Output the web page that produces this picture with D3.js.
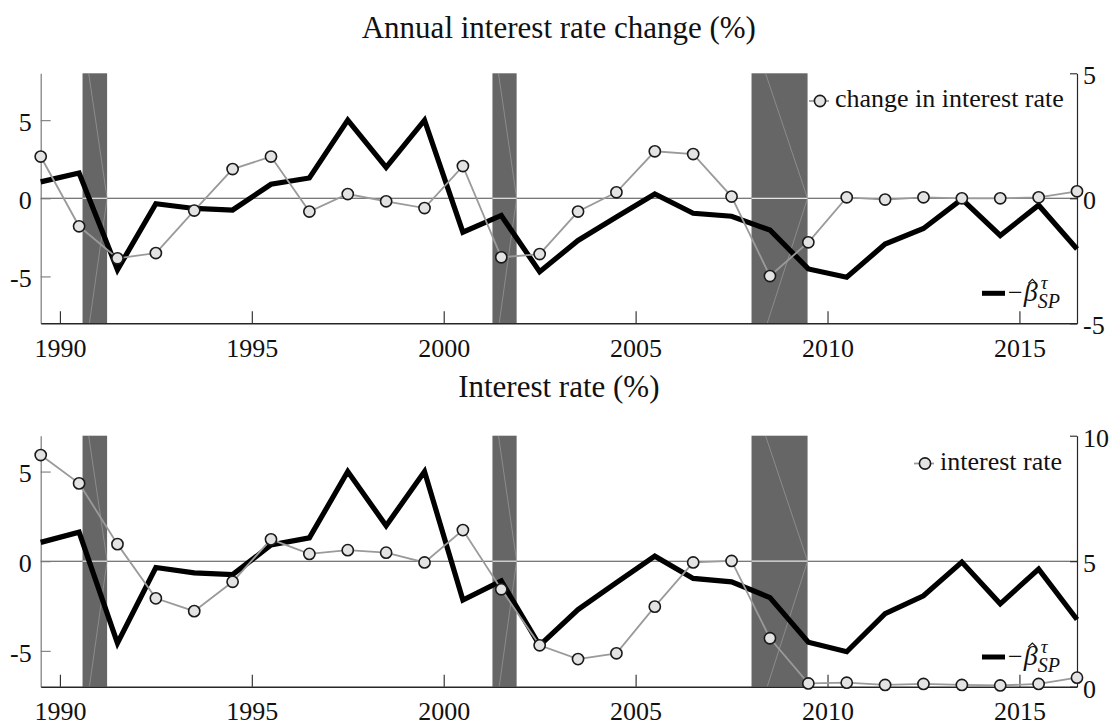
<!DOCTYPE html>
<html><head><meta charset="utf-8">
<script src="https://cdn.jsdelivr.net/npm/d3@7/dist/d3.min.js"></script>
<style>
body{margin:0;background:#fff}
svg{display:block}
</style>
</head><body>
<svg id="c" width="1112" height="726"></svg>
<script>
// ---- data ----
const years = [1989,1990,1991,1992,1993,1994,1995,1996,1997,1998,1999,2000,2001,2002,
               2003,2004,2005,2006,2007,2008,2009,2010,2011,2012,2013,2014,2015,2016];
const betaSP = [1.05,1.62,-4.57,-0.35,-0.65,-0.75,0.9,1.3,5.0,1.98,5.0,-2.17,-1.1,-4.7,
                -2.7,-1.2,0.28,-0.96,-1.15,-2.03,-4.52,-5.05,-2.93,-1.93,-0.05,-2.38,-0.44,-3.25];
const rateChange = [1.67,-1.12,-2.4,-2.19,-0.49,1.17,1.67,-0.53,0.17,-0.12,-0.39,1.29,-2.36,-2.23,
                    -0.53,0.24,1.88,1.77,0.07,-3.11,-1.76,0.04,-0.05,0.04,0,0,0.04,0.28];
const rate = [9.23,8.1,5.68,3.52,3.01,4.18,5.87,5.29,5.44,5.34,4.95,6.24,3.88,1.65,
              1.1,1.33,3.19,4.95,5.01,1.93,0.13,0.16,0.07,0.11,0.07,0.05,0.11,0.36];
const recessions = [[1990.59,1991.23],[2001.27,2001.9],[2008.02,2009.48]];
const xTicks = [1990,1995,2000,2005,2010,2015];
const leftTicks = [-5,0,5];
const titles = ["Annual interest rate change (%)","Interest rate (%)"];
const legendNames = ["change in interest rate","interest rate"];

// ---- layout ----
const SERIF = '"Liberation Serif","Tinos","Times New Roman",serif';
const svg = d3.select('#c');
const X0 = 40.7, X1 = 1077;
const x = d3.scaleLinear().domain([1989.5,2016.5]).range([X0,X1]);
const FS = 26;
const fmt = d => d<0 ? '-'+Math.abs(d) : String(d);

function styleText(sel, size){
  sel.style('font-family',SERIF).attr('font-family',null).attr('font-size',size).attr('fill','#111');
  return sel;
}

function panel(cfg){
  const yL = d3.scaleLinear().domain(cfg.leftDomain).range([cfg.bottom,cfg.top]);
  const yR = d3.scaleLinear().domain(cfg.rightDomain).range([cfg.bottom,cfg.top]);
  const g = svg.append('g');

  g.append('line').attr('x1',X0).attr('x2',X1).attr('y1',yL(0)).attr('y2',yL(0))
    .attr('stroke','#4d4d4d').attr('stroke-width',1.1);

  recessions.forEach(r=>{
    const xa=x(r[0]), xb=x(r[1]), w=xb-xa, y0=yL(0);
    g.append('rect').attr('x',xa).attr('y',cfg.top).attr('width',w)
      .attr('height',cfg.bottom-cfg.top).attr('fill','#666666');
    g.append('line').attr('x1',xa).attr('x2',xb).attr('y1',y0).attr('y2',y0)
      .attr('stroke','#e6e6e6').attr('stroke-width',1.2);
    g.append('path').attr('d',`M${xa+0.25*w},${cfg.top} L${xb},${y0} L${xa+0.28*w},${cfg.bottom}`)
      .attr('fill','none').attr('stroke','#b5b5b5').attr('stroke-width',0.6).attr('opacity',0.8);
  });

  const aL = g.append('g').attr('transform',`translate(${X0},0)`)
    .call(d3.axisLeft(yL).tickValues(leftTicks).tickSize(-10).tickSizeOuter(0).tickPadding(9).tickFormat(fmt));
  aL.attr('font-family',null);
  aL.select('.domain').attr('stroke','#7a7a7a').attr('stroke-width',1.2);
  aL.selectAll('.tick line').attr('stroke','#7a7a7a').attr('stroke-width',1.1);
  styleText(aL.selectAll('text'),FS).attr('dy','0.4em');

  const aB = g.append('g').attr('transform',`translate(0,${cfg.bottom})`)
    .call(d3.axisBottom(x).tickValues(xTicks).tickSize(-12).tickSizeOuter(0).tickPadding(15)
      .tickFormat(d3.format('d')));
  aB.attr('font-family',null);
  aB.select('.domain').attr('stroke','#262626').attr('stroke-width',1.4);
  aB.selectAll('.tick line').attr('stroke','#262626').attr('stroke-width',1.1);
  styleText(aB.selectAll('text'),FS);

  const aR = g.append('g').attr('transform',`translate(${X1},0)`)
    .call(d3.axisRight(yR).tickValues(cfg.rightTicks).tickSize(-7).tickSizeOuter(0).tickPadding(6).tickFormat(fmt));
  aR.attr('font-family',null);
  aR.select('.domain').attr('stroke','#262626').attr('stroke-width',1.2);
  aR.selectAll('.tick line').attr('stroke','#262626').attr('stroke-width',1.1);
  styleText(aR.selectAll('text'),FS).attr('dy','0.4em');

  const lineL = d3.line().x((d,i)=>x(years[i]+0.5)).y(d=>yL(d));
  g.append('path').datum(betaSP).attr('d',lineL).attr('fill','none')
    .attr('stroke','#000').attr('stroke-width',5.2).attr('stroke-linejoin','miter');

  const lineR = d3.line().x((d,i)=>x(years[i]+0.5)).y(d=>yR(d));
  g.append('path').datum(cfg.series).attr('d',lineR).attr('fill','none')
    .attr('stroke','#9a9a9a').attr('stroke-width',1.8);
  g.selectAll('circle.m').data(cfg.series).enter().append('circle')
    .attr('cx',(d,i)=>x(years[i]+0.5)).attr('cy',d=>yR(d)).attr('r',5.6)
    .attr('fill','#e3e3e3').attr('stroke','#1a1a1a').attr('stroke-width',1.6);

  styleText(g.append('text').attr('x',(X0+X1)/2).attr('y',cfg.titleY).attr('text-anchor','middle')
    .text(cfg.title), 31);

  // legend: gray series
  const lx = cfg.legX;
  g.append('line').attr('x1',lx-11).attr('x2',lx+9).attr('y1',cfg.legY).attr('y2',cfg.legY)
    .attr('stroke','#9a9a9a').attr('stroke-width',1.8);
  g.append('circle').attr('cx',lx).attr('cy',cfg.legY).attr('r',5.6)
    .attr('fill','#e3e3e3').attr('stroke','#1a1a1a').attr('stroke-width',1.6);
  styleText(g.append('text').attr('x',lx+15).attr('y',cfg.legY+6).text(cfg.legName), 26);

  // legend: beta  −β̂^τ_SP  (one text element, hat drawn as a small stroke)
  const by = cfg.betaY;
  g.append('line').attr('x1',982).attr('x2',1005).attr('y1',by).attr('y2',by)
    .attr('stroke','#000').attr('stroke-width',5);
  const t = styleText(g.append('text').attr('x',1008).attr('y',by+8), 26);
  t.append('tspan').text('\u2212');
  const tb = t.append('tspan').style('font-style','italic').attr('font-size',28).attr('dx',1).text('\u03B2');
  const tt = t.append('tspan').style('font-style','italic').attr('font-size',19).attr('dx',3).attr('dy',-12).text('\u03C4');
  const ts = t.append('tspan').style('font-style','italic').attr('font-size',20).attr('dy',19).text('SP');
  const tw = tt.node().getComputedTextLength();
  ts.attr('dx',-(tw+3));
  // hat over beta
  const bStart = t.node().getStartPositionOfChar(1).x;
  const bEnd = t.node().getEndPositionOfChar(1).x;
  const hc = bStart + (bEnd-bStart)*0.62, hy = by-14;
  g.append('path').attr('d',`M${hc-4},${hy+4} L${hc},${hy} L${hc+4},${hy+4}`)
    .attr('fill','none').attr('stroke','#111').attr('stroke-width',1.1);
}

panel({top:73.3,bottom:323.3,leftDomain:[-8,8],rightDomain:[-5,5],rightTicks:[-5,0,5],
       series:rateChange,title:titles[0],titleY:37.5,legX:820,legY:101,legName:legendNames[0],betaY:293.3});
panel({top:435.7,bottom:686.7,leftDomain:[-7,7],rightDomain:[0,10],rightTicks:[0,5,10],
       series:rate,title:titles[1],titleY:397,legX:925,legY:463.5,legName:legendNames[1],betaY:657});
</script>
</body></html>
